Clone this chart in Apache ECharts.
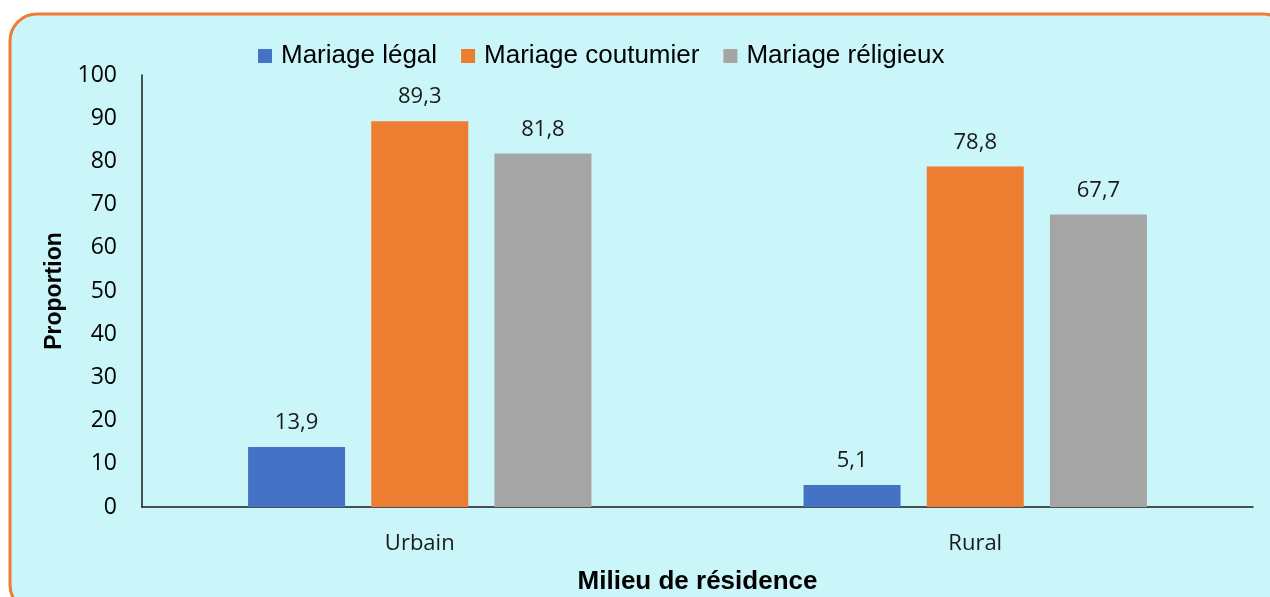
<!DOCTYPE html>
<html>
<head>
<meta charset="utf-8">
<script src="https://cdn.jsdelivr.net/npm/echarts@6/dist/echarts.min.js"></script>
<style>
  html, body { margin: 0; padding: 0; background: #fff; }
  #chart { width: 1270px; height: 597px; }
</style>
</head>
<body>
<div id="chart"></div>
<script>
  var categories = ['Urbain', 'Rural'];
  var legalValues = [13.9, 5.1];
  var coutumierValues = [89.3, 78.8];
  var religieuxValues = [81.8, 67.7];
  var yTicks = [0, 10, 20, 30, 40, 50, 60, 70, 80, 90, 100];

  var myChart = echarts.init(document.getElementById('chart'));

  function commaLabel(p) {
    return String(p.value).replace('.', ',');
  }

  var barLabel = {
    show: true,
    position: 'top',
    distance: 13,
    fontFamily: 'Open Sans',
    fontSize: 22,
    color: '#1a1a1a',
    formatter: commaLabel
  };

  var option = {
    animation: false,
    color: ['#4472C4', '#ED7D31', '#A5A5A5'],
    graphic: [{
      type: 'rect',
      z: -10,
      silent: true,
      shape: { x: 10, y: 14, width: 1280, height: 598, r: 27 },
      style: { fill: '#CAF6F9', stroke: '#ED7D31', lineWidth: 3 }
    }],
    legend: {
      left: 253,
      top: 38,
      itemWidth: 14,
      itemHeight: 14,
      itemGap: 24,
      icon: 'rect',
      textStyle: {
        fontFamily: 'Liberation Sans',
        fontSize: 26,
        color: '#000',
        padding: [0, 0, 0, 4]
      },
      data: ['Mariage légal', 'Mariage coutumier', 'Mariage réligieux']
    },
    grid: {
      left: 142,
      top: 75,
      right: 17,
      bottom: 90,
      containLabel: false,
      outerBoundsMode: 'none'
    },
    xAxis: {
      type: 'category',
      data: categories,
      name: 'Milieu de résidence',
      nameLocation: 'middle',
      nameGap: 62,
      nameTextStyle: {
        fontFamily: 'Liberation Sans',
        fontWeight: 'bold',
        fontSize: 26,
        color: '#000'
      },
      axisLine: { lineStyle: { color: '#1a1a1a', width: 1.5 } },
      axisTick: { show: false },
      axisLabel: {
        margin: 26,
        fontFamily: 'Open Sans',
        fontSize: 22,
        color: '#1a1a1a'
      }
    },
    yAxis: {
      type: 'value',
      min: yTicks[0],
      max: yTicks[yTicks.length - 1],
      interval: 10,
      name: 'Proportion',
      nameLocation: 'middle',
      nameGap: 74,
      nameTextStyle: {
        fontFamily: 'Liberation Sans',
        fontWeight: 'bold',
        fontSize: 23,
        color: '#000'
      },
      axisLine: { show: true, lineStyle: { color: '#1a1a1a', width: 1.5 } },
      axisTick: { show: false },
      splitLine: { show: false },
      axisLabel: {
        margin: 25,
        fontFamily: 'Open Sans',
        fontSize: 23,
        color: '#000'
      }
    },
    series: [
      {
        name: 'Mariage légal',
        type: 'bar',
        barWidth: 97,
        barGap: '27%',
        data: legalValues,
        label: barLabel
      },
      {
        name: 'Mariage coutumier',
        type: 'bar',
        barWidth: 97,
        barGap: '27%',
        data: coutumierValues,
        label: barLabel
      },
      {
        name: 'Mariage réligieux',
        type: 'bar',
        barWidth: 97,
        barGap: '27%',
        data: religieuxValues,
        label: barLabel
      }
    ]
  };

  myChart.setOption(option);
  window.onresize = myChart.resize;
</script>
</body>
</html>
